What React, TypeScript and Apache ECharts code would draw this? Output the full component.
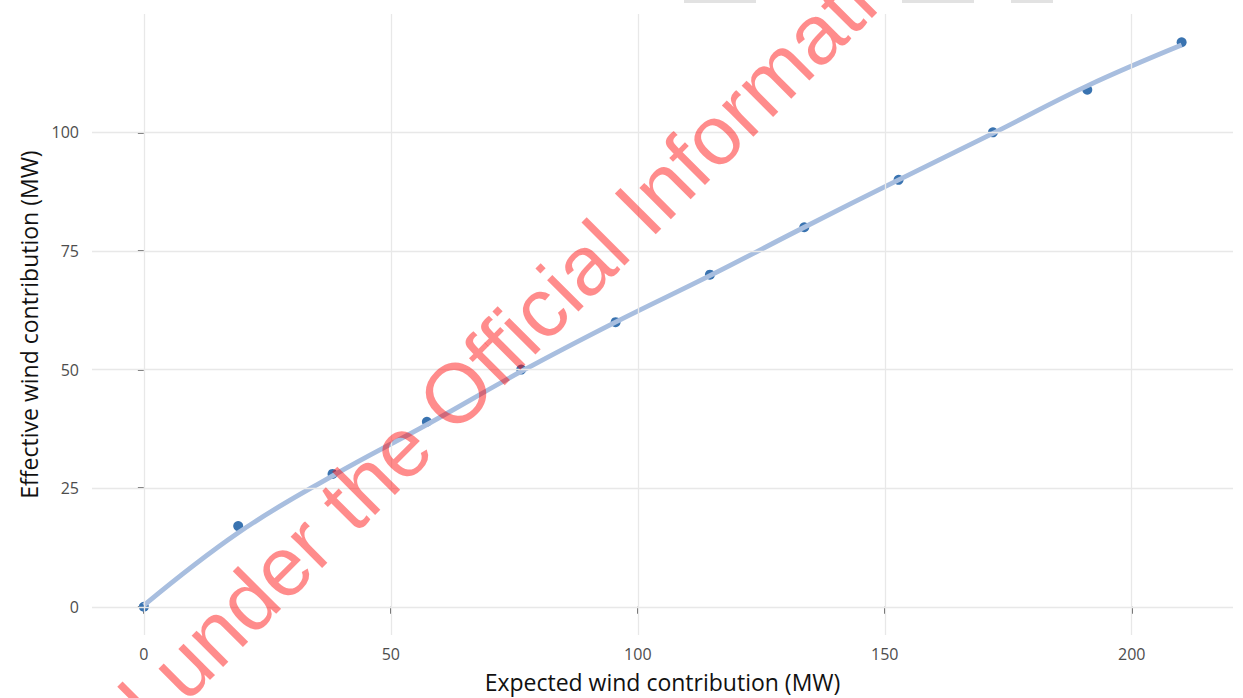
import React, { useEffect, useRef } from "react";
import * as echarts from "echarts";

const expectedMW = [0, 19.1, 38.2, 57.3, 76.4, 95.5, 114.6, 133.7, 152.8, 171.9, 191.0, 210.1];
const effectiveMW = [0, 17, 28, 39, 50, 60, 70, 80, 90, 100, 109, 119];
// Smoothed fit at the same x positions
const fittedMW = [0.3, 15.6, 27.6, 38.4, 49.6, 60, 69.8, 80, 90, 99.8, 109.8, 118.4];

const xTicks = [0, 50, 100, 150, 200];
const yTicks = [0, 25, 50, 75, 100];

const xTitle = "Expected wind contribution (MW)";
const yTitle = "Effective wind contribution (MW)";
const watermark = "Released under the Official Information Act";

export default function App() {
  const ref = useRef<HTMLDivElement>(null);
  useEffect(() => {
    if (!ref.current) return;
    const chart = echarts.init(ref.current, null, { renderer: "svg" });
    const pts = expectedMW.map((x, i) => [x, effectiveMW[i]]);
    const fit = expectedMW.map((x, i) => [x, fittedMW[i]]);
    const grid = [
      ...xTicks.map((v) => ({ xAxis: v })),
      ...yTicks.map((v) => ({ yAxis: v })),
    ];
    chart.setOption({
      animation: false,
      backgroundColor: "#ffffff",
      grid: { left: 92, right: 10, top: 14, bottom: 63, containLabel: false },
      xAxis: {
        type: "value",
        min: -10.5,
        max: 220.5,
        name: xTitle,
        nameLocation: "middle",
        nameGap: 35,
        nameTextStyle: { fontFamily: "Open Sans", fontSize: 23, color: "#111" },
        axisLine: { show: false },
        splitLine: { show: false },
        axisTick: { show: true, customValues: xTicks, length: 7, lineStyle: { color: "#333", width: 1.5 } },
        axisLabel: { customValues: xTicks, margin: 11, fontFamily: "Open Sans", fontSize: 16, color: "#4d4d4d" },
      },
      yAxis: {
        type: "value",
        min: -5.95,
        max: 124.95,
        name: yTitle,
        nameLocation: "middle",
        nameGap: 52,
        nameTextStyle: { fontFamily: "Open Sans", fontSize: 23, color: "#111" },
        axisLine: { show: false },
        splitLine: { show: false },
        axisTick: { show: true, customValues: yTicks, length: 6, lineStyle: { color: "#333", width: 1.5 } },
        axisLabel: { customValues: yTicks, margin: 13, fontFamily: "Open Sans", fontSize: 16, color: "#4d4d4d" },
      },
      series: [
        {
          type: "scatter",
          data: pts,
          symbolSize: 0,
          silent: true,
          z: 0,
          markLine: {
            silent: true,
            symbol: "none",
            label: { show: false },
            lineStyle: { color: "#e8e8e8", width: 1.3, type: "solid" },
            data: grid,
          },
        },
        {
          type: "scatter",
          data: pts,
          symbolSize: 10,
          itemStyle: { color: "#3973b0", opacity: 1 },
          z: 2,
        },
        {
          type: "line",
          data: fit,
          smooth: 0.4,
          showSymbol: false,
          symbol: "none",
          lineStyle: { color: "#a8bedf", width: 4.8 },
          z: 3,
        },
      ],
      graphic: [
        { type: "rect", shape: { x: 684, y: 0, width: 72, height: 3 }, style: { fill: "#e2e2e2" } },
        { type: "rect", shape: { x: 902, y: 0, width: 72, height: 3 }, style: { fill: "#e2e2e2" } },
        { type: "rect", shape: { x: 1011, y: 0, width: 42, height: 3 }, style: { fill: "#e2e2e2" } },
        {
          type: "text",
          x: 462,
          y: 387,
          rotation: Math.PI / 4,
          z: 100,
          silent: true,
          style: {
            text: watermark,
            x: 0,
            y: 0,
            fontFamily: "Liberation Sans",
            fontSize: 84,
            fill: "rgba(255,0,0,0.45)",
            textAlign: "center",
            textVerticalAlign: "middle",
          },
        },
      ],
    });
    return () => chart.dispose();
  }, []);
  return <div ref={ref} style={{ position: "absolute", left: 0, top: 0, width: 1243, height: 698 }} />;
}
